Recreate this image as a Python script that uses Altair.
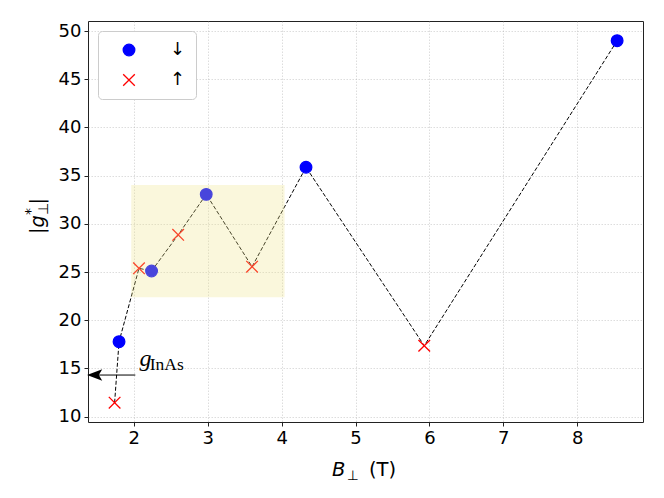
import altair as alt
import pandas as pd

# ---- data ----
B_FIELD = [1.74, 1.80, 2.07, 2.24, 2.60, 2.98, 3.60, 4.33, 5.93, 8.54]
G_FACTOR = [11.45, 17.78, 25.39, 25.11, 28.86, 33.06, 25.56, 35.87, 17.36, 49.0]
SPIN = ["↑", "↓", "↑", "↓", "↑", "↓", "↑", "↓", "↑", "↓"]
SPIN_ORDER = ["↓", "↑"]
SPIN_COLORS = ["#0000ff", "#ff0000"]
SPIN_SHAPES = ["circle", "M-1,-1L1,1M-1,1L1,-1"]

X_TICKS = [2, 3, 4, 5, 6, 7, 8]
Y_TICKS = [10, 15, 20, 25, 30, 35, 40, 45, 50]
X_DOMAIN = [1.38, 8.89]
Y_DOMAIN = [9.45, 51.04]

HIGHLIGHT_X = [1.965, 4.04]
HIGHLIGHT_Y = [22.38, 34.03]

ARROW_X = [2.02, 1.42]
ARROW_Y = [14.32]
ARROW_HEAD_X = [1.47]
LABEL_G = {"x": [2.077], "y": [15.26], "t": ["g"]}
LABEL_SUB = {"x": [2.215], "y": [14.84], "t": ["InAs"]}

W, H = 555, 401
FONT = "DejaVu Sans"

df = pd.DataFrame({"B": B_FIELD, "g": G_FACTOR, "spin": SPIN, "order": list(range(len(B_FIELD)))})

xs = alt.Scale(domain=X_DOMAIN, nice=False, zero=False)
ys = alt.Scale(domain=Y_DOMAIN, nice=False, zero=False)

xenc = alt.X("B:Q", scale=xs, axis=alt.Axis(values=X_TICKS, title=None, format="d"))
yenc = alt.Y("g:Q", scale=ys, axis=alt.Axis(values=Y_TICKS, title=None, format="d"))

line = alt.Chart(df).mark_line(color="black", strokeWidth=1, strokeDash=[4, 2]).encode(
    x=xenc, y=yenc, order="order:Q"
)

spin_scale = dict(domain=SPIN_ORDER, range=SPIN_COLORS)
legend = alt.Legend(title=None, orient="top-left", offset=10, padding=10,
                    symbolOffset=12, labelOffset=32, rowPadding=12,
                    labelFontSize=18, labelFont=FONT, labelColor="black",
                    labelExpr="datum.label + '\u00a0\u00a0'",
                    strokeColor="#cccccc", fillColor="white", cornerRadius=4,
                    symbolSize=135, symbolStrokeWidth=1.3)

points = alt.Chart(df).mark_point(filled=True, size=135, strokeWidth=1.3, opacity=1).encode(
    x=alt.X("B:Q", scale=xs),
    y=alt.Y("g:Q", scale=ys),
    fill=alt.Fill("spin:N", scale=alt.Scale(**spin_scale), legend=legend),
    stroke=alt.Stroke("spin:N", scale=alt.Scale(**spin_scale), legend=legend),
    shape=alt.Shape("spin:N", scale=alt.Scale(domain=SPIN_ORDER, range=SPIN_SHAPES), legend=legend),
)

rect_df = pd.DataFrame({"x": [HIGHLIGHT_X[0]], "x2": [HIGHLIGHT_X[1]],
                        "y": [HIGHLIGHT_Y[0]], "y2": [HIGHLIGHT_Y[1]]})
rect = alt.Chart(rect_df).mark_rect(color="#f0e68c", opacity=0.3).encode(
    x=alt.X("x:Q", scale=xs), x2="x2:Q", y=alt.Y("y:Q", scale=ys), y2="y2:Q"
)

arrow_df = pd.DataFrame({"x": [ARROW_X[0]], "x2": [ARROW_X[1]], "y": ARROW_Y})
arrow_line = alt.Chart(arrow_df).mark_rule(color="black", strokeWidth=1).encode(
    x=alt.X("x:Q", scale=xs), x2="x2:Q", y=alt.Y("y:Q", scale=ys)
)
head_df = pd.DataFrame({"x": ARROW_HEAD_X, "y": ARROW_Y})
arrow_head = alt.Chart(head_df).mark_point(
    shape="M-1,0L1,-0.75L0.55,0L1,0.75Z", filled=True, color="black", size=230, opacity=1
).encode(x=alt.X("x:Q", scale=xs), y=alt.Y("y:Q", scale=ys))

g_text = alt.Chart(pd.DataFrame(LABEL_G)).mark_text(
    font="Liberation Serif", fontStyle="italic", fontSize=24, align="left", baseline="alphabetic", color="black"
).encode(x=alt.X("x:Q", scale=xs), y=alt.Y("y:Q", scale=ys), text="t:N")
sub_text = alt.Chart(pd.DataFrame(LABEL_SUB)).mark_text(
    font="Liberation Serif", fontSize=17.5, align="left", baseline="alphabetic", color="black"
).encode(x=alt.X("x:Q", scale=xs), y=alt.Y("y:Q", scale=ys), text="t:N")

# axis titles built from pieces (math-style sub/superscripts)
def piece(text, x, y, size, italic=False, angle=0):
    kw = dict(font=FONT, fontSize=size, align="left", baseline="alphabetic", color="black")
    if italic:
        kw["fontStyle"] = "italic"
    if angle:
        kw["angle"] = angle
    return alt.Chart(pd.DataFrame({"t": [text]})).mark_text(**kw).encode(
        x=alt.value(x), y=alt.value(y), text="t:N"
    )

xtitle = [
    piece("B", 244, 455, 19.5, italic=True),
    piece("⊥", 259, 459, 13.5),
    piece("(T)", 281, 455, 19.5),
]
ytitle = [
    piece("|", -44, 213, 19.5, angle=270),
    piece("g", -44, 206.5, 19.5, italic=True, angle=270),
    piece("*", -53, 194, 14, angle=270),
    piece("⊥", -40, 194, 14, angle=270),
    piece("|", -44, 183.5, 19.5, angle=270),
]

chart = alt.layer(line, points, rect, arrow_line, arrow_head, g_text, sub_text, *xtitle, *ytitle).properties(
    width=W, height=H,
    autosize=alt.AutoSizeParams(type="none"),
    padding={"left": 80, "top": 13, "right": 13, "bottom": 60},
).configure_view(
    stroke="#222222", strokeWidth=1
).configure_axis(
    labelFont=FONT, labelFontSize=18, labelColor="black",
    tickColor="#222222", tickSize=4, tickWidth=1, labelPadding=3,
    domain=False,
    grid=True, gridColor="#b0b0b0", gridOpacity=0.55, gridDash=[1.5, 1.5], gridWidth=0.8,
)

chart.save("out.html", embed_options={"renderer": "svg", "actions": False})
